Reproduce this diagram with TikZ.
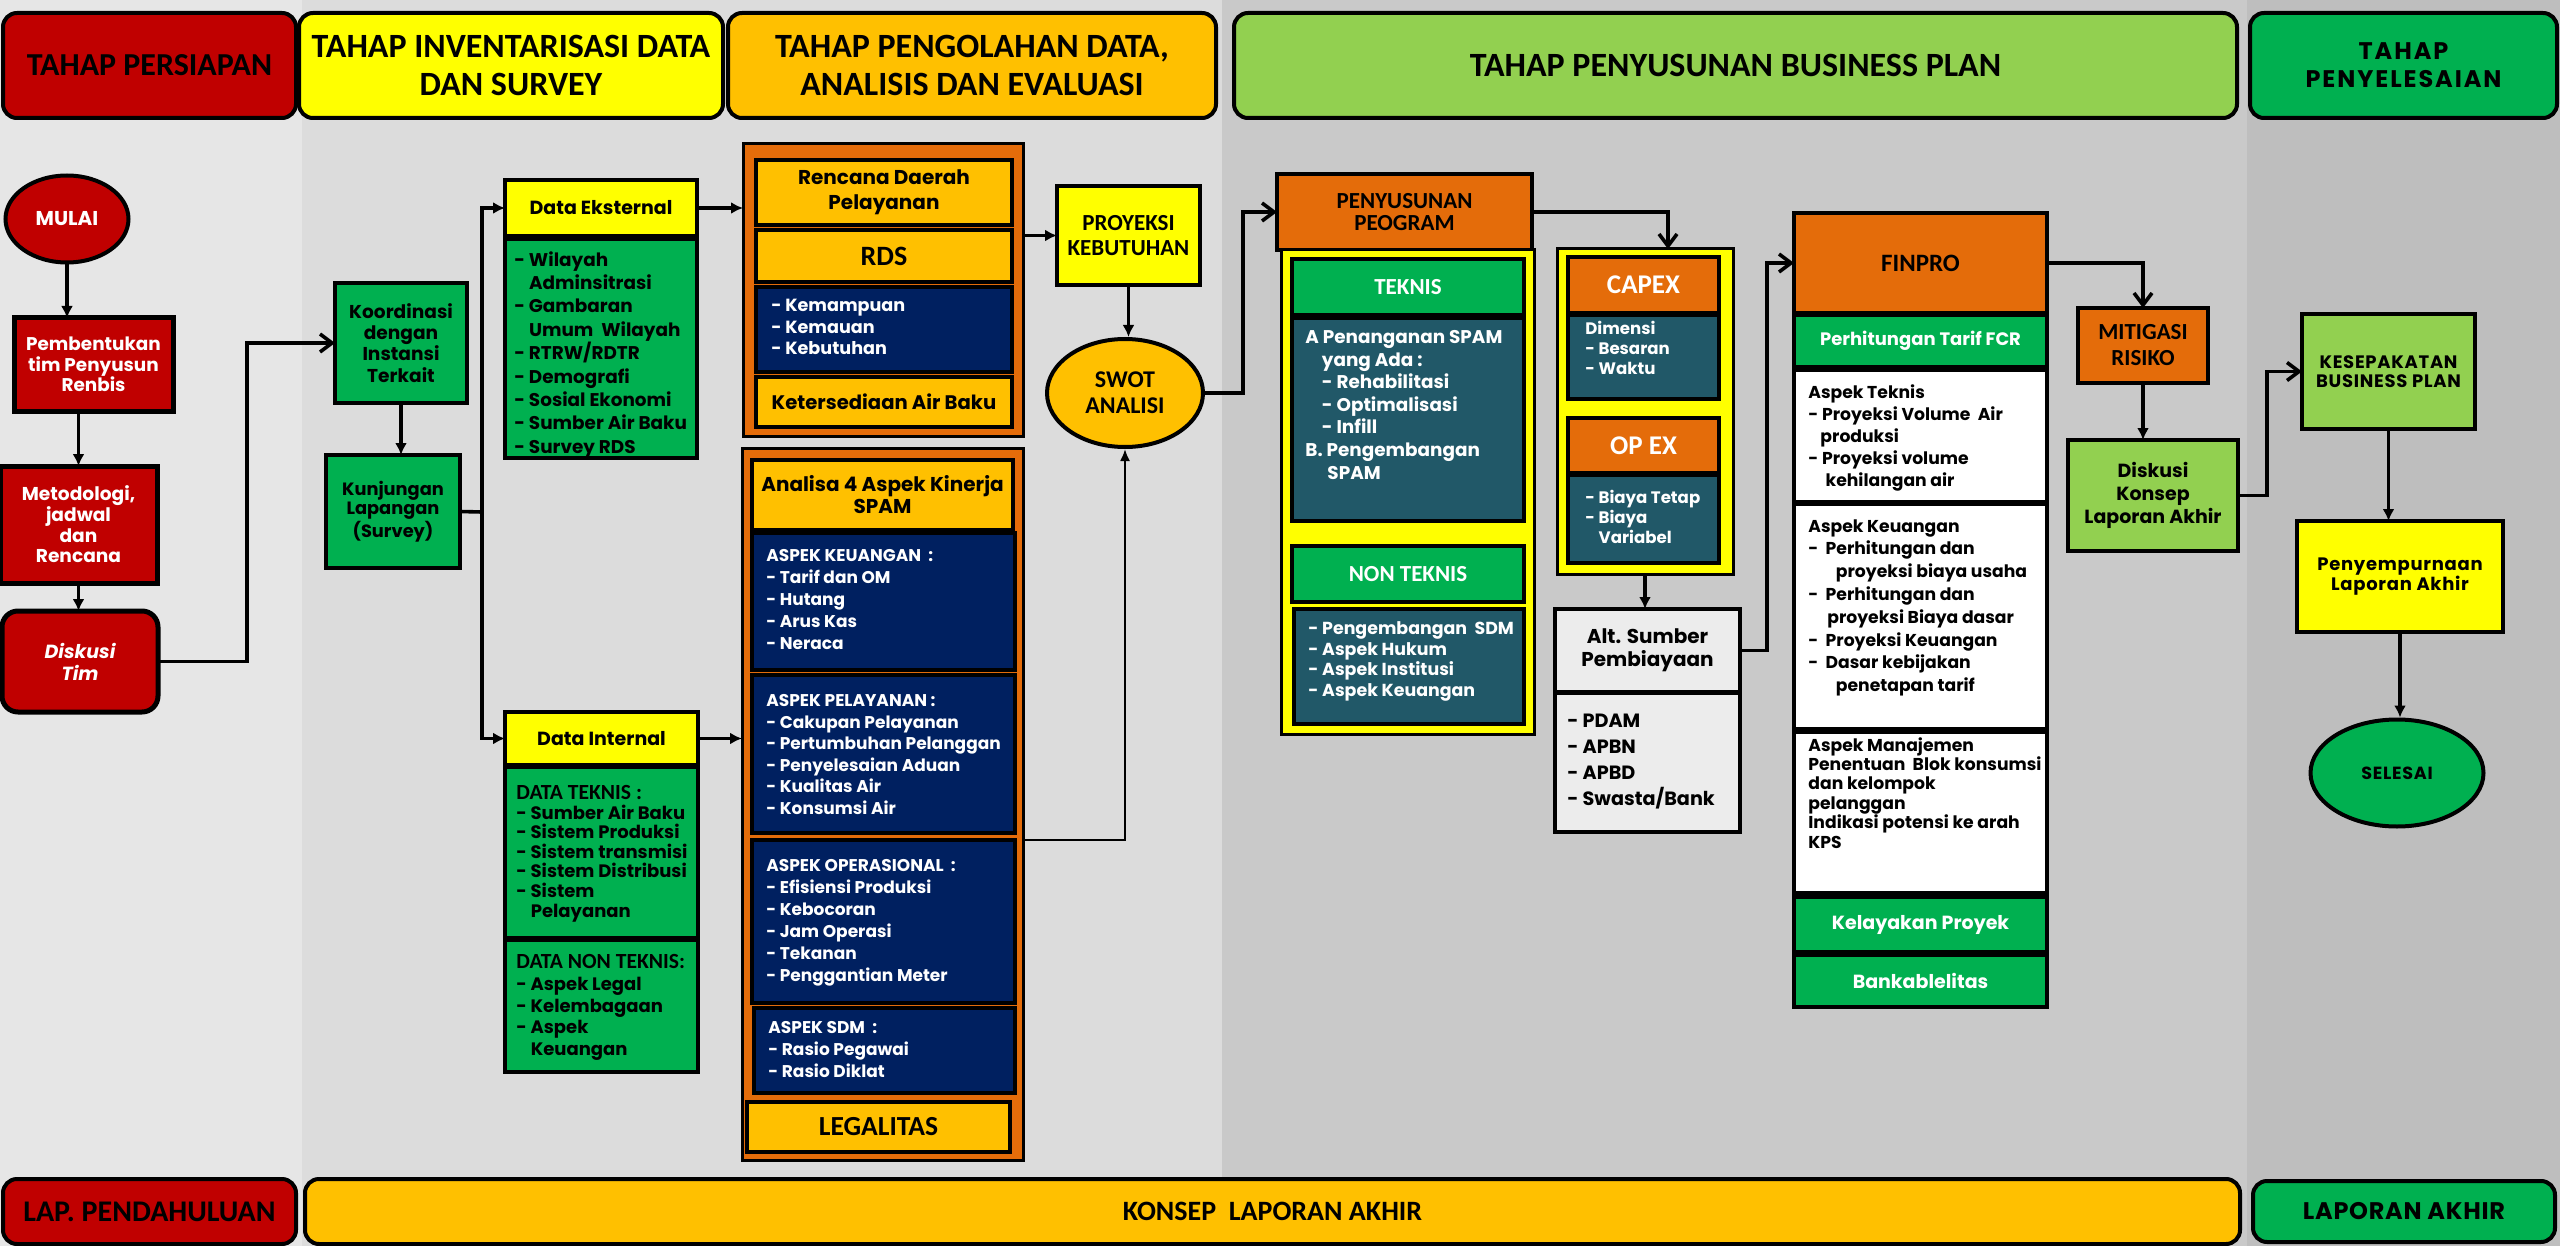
\documentclass[tikz,border=0pt]{standalone}
\usepackage{fontspec}
\setmainfont{Poppins}
\newfontfamily\hfont{Carlito}
\usetikzlibrary{shapes.geometric,arrows.meta,calc}
\definecolor{cred}{HTML}{C00000}
\definecolor{cyel}{HTML}{FFFF00}
\definecolor{cgold}{HTML}{FFC000}
\definecolor{clgrn}{HTML}{92D050}
\definecolor{cgrn}{HTML}{00B050}
\definecolor{corg}{HTML}{E46C0A}
\definecolor{cnavy}{HTML}{002060}
\definecolor{cteal}{HTML}{215868}
\definecolor{cgry}{HTML}{ECECEC}
\definecolor{bgA}{HTML}{E6E6E6}
\definecolor{bgB}{HTML}{DCDCDC}
\definecolor{bgC}{HTML}{C9C9C9}
\definecolor{bgD}{HTML}{BEBEBE}
\newcommand\mybox[7]{\node[#6,anchor=north west,minimum width={(#4-#2)*0.5pt},minimum height={(#5-#3)*0.5pt}] (#1) at (#2,#3) {#7};}
\newcommand\fs[2]{\bfseries\fontsize{#1}{#2}\selectfont}
\begin{document}
\begin{tikzpicture}[x=0.5pt,y=-0.5pt,
  box/.style={draw=black, line width=2pt, inner sep=1pt, outer sep=0pt, align=center, font=\fs{8.5}{10.5}},
  redbox/.style={box, fill=cred, text=white, line width=2.5pt},
  grnbox/.style={box, fill=cgrn},
  yelbox/.style={box, fill=cyel},
  goldbox/.style={box, fill=cgold, line width=1.8pt},
  navybox/.style={box, fill=cnavy, line width=1.8pt},
  tealbox/.style={box, fill=cteal, line width=1.8pt},
  frm/.style={box, fill=corg, line width=1.5pt},
  yfr/.style={box, fill=cyel, line width=1.5pt},
  orgbox/.style={box, fill=corg},
  orgw/.style={box, fill=corg, text=white, line width=1.8pt},
  grnw/.style={box, fill=cgrn, text=white, line width=1.8pt},
  whtbox/.style={box, fill=white},
  grybox/.style={box, fill=cgry},
  lgrnbox/.style={box, fill=clgrn},
  hdr/.style={draw=black, line width=2pt, rounded corners=7pt, inner sep=1pt, outer sep=0pt, align=center, font=\hfont\fs{16}{18}},
  lst/.style={anchor=north west, align=left, inner sep=0pt, font=\fs{8.5}{10.5}},
  conn/.style={line width=1.8pt},
  arf/.style={conn, -{Latex[length=6pt,width=6pt]}},
  aro/.style={conn, -{Straight Barb[length=6pt,width=9pt]}},
  ell/.style={ellipse, draw=black, line width=2pt, inner sep=0pt, align=center}
]
\useasboundingbox (0,0) rectangle (2560,1246);
% backgrounds
\fill[bgA] (0,0) rectangle (302,1246);
\fill[bgB] (302,0) rectangle (1222,1246);
\fill[bgC] (1222,0) rectangle (2247,1246);
\fill[bgD] (2247,0) rectangle (2560,1246);

% headers
\mybox{h1}{3}{13}{296}{118}{hdr,fill=cred}{TAHAP PERSIAPAN}
\mybox{h2}{299}{13}{723}{118}{hdr,fill=cyel,font=\hfont\fs{17}{19}}{TAHAP INVENTARISASI DATA\\DAN SURVEY}
\mybox{h3}{728}{13}{1216}{118}{hdr,fill=cgold,font=\hfont\fs{17}{19}}{TAHAP PENGOLAHAN DATA,\\ANALISIS DAN EVALUASI}
\mybox{h4}{1234}{13}{2237}{118}{hdr,fill=clgrn,font=\hfont\fs{17}{19}}{TAHAP PENYUSUNAN BUSINESS PLAN}
\mybox{h5}{2250}{13}{2557}{118}{hdr,fill=cgrn,font=\fs{12}{14}\addfontfeature{LetterSpace=8}}{TAHAP\\PENYELESAIAN}

% footers
\mybox{f1}{3}{1179}{296}{1244}{hdr,fill=cred,font=\hfont\fs{15}{16}}{LAP. PENDAHULUAN}
\mybox{f2}{305}{1179}{2240}{1244}{hdr,fill=cgold,font=\hfont\fs{14}{16}}{KONSEP~ LAPORAN AKHIR}
\mybox{f3}{2253}{1181}{2555}{1242}{hdr,fill=cgrn,font=\fs{12}{14}\addfontfeature{LetterSpace=3}}{LAPORAN AKHIR}

% column 1
\node[ell, fill=cred, text=white, font=\fs{10}{11}, minimum width=61.5pt, minimum height=43.5pt] (mulai) at (67,219) {MULAI};
\mybox{pemb}{14}{318}{173}{411}{redbox,font=\fs{9.2}{10.2}}{Pembentukan\\tim Penyusun\\Renbis}
\mybox{meto}{0}{466}{157}{583}{redbox,font=\fs{9.3}{10.3}}{Metodologi,\\jadwal\\dan\\Rencana}
\mybox{disk}{2}{611}{158}{712}{redbox,rounded corners=8pt,font=\fs{9.5}{11}\itshape}{Diskusi\\Tim}

% column 2
\mybox{koor}{335}{283}{467}{403}{grnbox,font=\fs{9.3}{10.6}}{Koordinasi\\dengan\\Instansi\\Terkait}
\mybox{kunj}{326}{455}{460}{568}{grnbox,font=\fs{8.9}{9.6}}{Kunjungan\\Lapangan\\(Survey)}
\coordinate (br) at (482,512);

\mybox{dexh}{505}{180}{697}{236}{yelbox,font=\fs{9.5}{11}}{Data Eksternal}
\mybox{dexb}{505}{239}{697}{458}{grnbox}{}
\node[lst, font=\fs{9.2}{11.7}] (dext) at (514,251) {- Wilayah\\\hspace*{0.8em}Adminsitrasi\\- Gambaran\\\hspace*{0.8em}Umum~ Wilayah\\- RTRW/RDTR\\- Demografi\\- Sosial Ekonomi\\- Sumber Air Baku\\- Survey RDS};

\mybox{dinh}{505}{712}{698}{765}{yelbox,font=\fs{9.5}{11}}{Data Internal}
\mybox{dint}{505}{767}{698}{938}{grnbox}{}
\node[lst, font=\fs{9}{9.8}] (dintt) at (516,785) {{\hfont\fontsize{10.8}{9.8}\selectfont DATA TEKNIS :}\\- Sumber Air Baku\\- Sistem Produksi\\- Sistem transmisi\\- Sistem Distribusi\\- Sistem\\\hspace*{0.8em}Pelayanan};
\mybox{dinn}{505}{940}{698}{1072}{grnbox}{}
\node[lst, font=\fs{9}{10.9}] (dinnt) at (516,954) {{\hfont\fontsize{10.8}{10.9}\selectfont DATA NON TEKNIS:}\\- Aspek Legal\\- Kelembagaan\\- Aspek\\\hspace*{0.8em}Keuangan};

% column 3 : frame 1
\mybox{fr1}{743}{144}{1023}{436}{frm}{}
\mybox{rdp}{756}{160}{1012}{225}{goldbox,font=\fs{10}{12.5}}{Rencana Daerah\\Pelayanan}
\mybox{rds}{756}{230}{1012}{282}{goldbox,font=\hfont\fs{14}{15}}{RDS}
\mybox{kem}{756}{287}{1012}{372}{navybox}{}
\node[lst, text=white, font=\fs{8.8}{10.8}] (kemt) at (771,299) {- Kemampuan\\- Kemauan\\- Kebutuhan};
\mybox{ket}{756}{377}{1012}{427}{goldbox,font=\fs{9.8}{11}}{Ketersediaan Air Baku}

% frame 2
\mybox{fr2}{742}{448}{1023}{1160}{frm}{}
\mybox{ana}{752}{460}{1013}{530}{goldbox,font=\fs{10}{11}}{Analisa 4 Aspek Kinerja\\SPAM}
\mybox{keu}{752}{533}{1015}{670}{navybox}{}
\node[lst, text=white, font=\fs{8.5}{11}] (keut) at (766,549) {ASPEK KEUANGAN~ :\\- Tarif dan OM\\- Hutang\\- Arus Kas\\- Neraca};
\mybox{pel}{752}{675}{1015}{833}{navybox}{}
\node[lst, text=white, font=\fs{8.5}{10.8}] (pelt) at (766,694) {ASPEK PELAYANAN :\\- Cakupan Pelayanan\\- Pertumbuhan Pelanggan\\- Penyelesaian Aduan\\- Kualitas Air\\- Konsumsi Air};
\mybox{ops}{752}{840}{1015}{1003}{navybox}{}
\node[lst, text=white, font=\fs{8.5}{11}] (opst) at (766,859) {ASPEK OPERASIONAL~ :\\- Efisiensi Produksi\\- Kebocoran\\- Jam Operasi\\- Tekanan\\- Penggantian Meter};
\mybox{sdm}{754}{1008}{1015}{1093}{navybox}{}
\node[lst, text=white, font=\fs{8.5}{11}] (sdmt) at (768,1021) {ASPEK SDM~ :\\- Rasio Pegawai\\- Rasio Diklat};
\mybox{leg}{747}{1102}{1010}{1152}{goldbox,font=\hfont\fs{13.8}{15}}{LEGALITAS}

% proyeksi & swot
\mybox{proy}{1057}{186}{1200}{285}{yelbox,font=\hfont\fs{11.5}{12.5}}{PROYEKSI\\KEBUTUHAN}
\node[ell, fill=cgold, font=\hfont\fs{12}{13}, minimum width=78pt, minimum height=54pt] (swot) at (1125,393) {SWOT\\ANALISI};

% column 4 : penyusunan
\mybox{peny}{1277}{174}{1532}{250}{orgbox,font=\hfont\fs{11.5}{11}}{PENYUSUNAN\\PEOGRAM}
\mybox{tfr}{1281}{250}{1534}{734}{yfr}{}
\mybox{tekh}{1292}{259}{1524}{315}{grnw,font=\hfont\fs{11.5}{12}}{TEKNIS}
\mybox{tekb}{1292}{318}{1524}{521}{tealbox}{}
\node[lst, text=white, font=\fs{9.2}{11.3}] (tekt) at (1305,330) {A Penanganan SPAM\\\hspace*{0.9em}yang Ada :\\\hspace*{0.9em}- Rehabilitasi\\\hspace*{0.9em}- Optimalisasi\\\hspace*{0.9em}- Infill\\B. Pengembangan\\\hspace*{1.2em}SPAM};
\mybox{ntkh}{1292}{546}{1524}{602}{grnw,font=\hfont\fs{11.5}{12}}{NON TEKNIS}
\mybox{ntkb}{1294}{609}{1524}{724}{tealbox}{}
\node[lst, text=white, font=\fs{8.7}{10.4}] (ntkt) at (1308,621) {- Pengembangan~ SDM\\- Aspek Hukum\\- Aspek Institusi\\- Aspek Keuangan};

% capex
\mybox{cfr}{1557}{249}{1733}{574}{yfr}{}
\mybox{caph}{1568}{257}{1719}{313}{orgw,font=\hfont\fs{13.5}{14}}{CAPEX}
\mybox{capb}{1568}{315}{1719}{399}{tealbox}{}
\node[lst, text=white, font=\fs{8.3}{10}] (capt) at (1585,321) {Dimensi\\- Besaran\\- Waktu};
\mybox{opxh}{1568}{418}{1719}{473}{orgw,font=\hfont\fs{13.5}{14}}{OP EX}
\mybox{opxb}{1568}{475}{1719}{563}{tealbox}{}
\node[lst, text=white, font=\fs{8.3}{10}] (opxt) at (1585,490) {- Biaya Tetap\\- Biaya\\\hspace*{0.8em}Variabel};

% alt sumber
\mybox{alth}{1555}{609}{1740}{692}{grybox,font=\fs{10}{11.5}}{Alt. Sumber\\Pembiayaan}
\mybox{altb}{1555}{693}{1740}{832}{grybox}{}
\node[lst, font=\fs{9.6}{13}] (altt) at (1567,714) {- PDAM\\- APBN\\- APBD\\- Swasta/Bank};

% finpro
\mybox{finp}{1794}{213}{2047}{313}{orgbox,font=\hfont\fs{12.5}{13}}{FINPRO}
\mybox{fcr}{1794}{315}{2047}{367}{grnw,font=\fs{9}{11}}{Perhitungan Tarif FCR}
\mybox{atek}{1794}{370}{2047}{502}{whtbox}{}
\node[lst, font=\fs{8.6}{11}] (atekt) at (1808,384) {Aspek Teknis\\- Proyeksi Volume~ Air\\\hspace*{0.7em}produksi\\- Proyeksi volume\\\hspace*{1em}kehilangan air};
\mybox{akeu}{1794}{504}{2047}{729}{whtbox}{}
\node[lst, font=\fs{8.6}{11.4}] (akeut) at (1808,519) {Aspek Keuangan\\-~ Perhitungan dan\\\hspace*{1.6em}proyeksi biaya usaha\\-~ Perhitungan dan\\\hspace*{1.1em}proyeksi Biaya dasar\\-~ Proyeksi Keuangan\\-~ Dasar kebijakan\\\hspace*{1.6em}penetapan tarif};
\mybox{aman}{1794}{732}{2047}{893}{whtbox}{}
\node[lst, font=\fs{8.6}{9.7}] (amant) at (1808,737) {Aspek Manajemen\\Penentuan~ Blok konsumsi\\dan kelompok\\pelanggan\\Indikasi potensi ke arah\\KPS};
\mybox{kel}{1794}{897}{2047}{952}{grnw,font=\fs{9.5}{11}}{Kelayakan Proyek}
\mybox{bank}{1794}{955}{2047}{1007}{grnw,font=\fs{9.5}{11}}{Bankablelitas}

% mitigasi & diskusi
\mybox{miti}{2078}{308}{2208}{383}{orgbox,font=\hfont\fs{11.5}{13}}{MITIGASI\\RISIKO}
\mybox{dkla}{2068}{440}{2238}{551}{lgrnbox,font=\fs{9.5}{11.5}}{Diskusi\\Konsep\\Laporan Akhir}

% column 5
\mybox{kesp}{2302}{314}{2475}{429}{lgrnbox,font=\fs{9}{9.8}\addfontfeature{LetterSpace=4}}{KESEPAKATAN\\BUSINESS PLAN}
\mybox{peny2}{2297}{521}{2503}{632}{yelbox,font=\fs{9}{10}\addfontfeature{LetterSpace=4}}{Penyempurnaan\\Laporan Akhir}
\node[ell, fill=cgrn, font=\fs{8.8}{9.5}\addfontfeature{LetterSpace=4}, minimum width=86.5pt, minimum height=53.5pt] (sele) at (2397,773) {SELESAI};

% connectors
\draw[arf] (mulai.south) -- (mulai.south |- pemb.north);
\draw[arf] (pemb.south -| meto.north) -- (meto.north);
\draw[arf] (meto.south) -- (meto.south |- disk.north);
\draw[aro] (disk.east) -- ++(89,0) |- (koor.west);
\draw[arf] (koor.south) -- (koor.south |- kunj.north);
\draw[conn] (kunj.east) -- (br);
\draw[arf] (br) |- (dexh.west);
\draw[arf] (br) |- (dinh.west);
\draw[arf] (dexh.east) -- (dexh.east -| fr1.west);
\draw[arf] (dinh.east) -- (dinh.east -| fr2.west);
\draw[arf] (fr1.east |- proy.west) -- (proy.west);
\draw[arf] (proy.south) -- (proy.south |- swot.north);
\draw[line width=1pt, -{Latex[length=6pt,width=5pt]}] (fr2.east |- ops.north) -| (swot.south);
\draw[aro] (swot.east) -- ++(38,0) |- (peny.west);
\draw[aro] (peny.east) -| ($(cfr.north)+(23,0)$);
\draw[arf] (cfr.south) -- (cfr.south |- alth.north);
\draw[aro] (alth.east) -- ++(27,0) |- (finp.west);
\draw[aro] (finp.east) -| (miti.north);
\draw[arf] (miti.south) -- (miti.south |- dkla.north);
\draw[aro] (dkla.east) -- ++(29,0) |- (kesp.west);
\draw[arf] (kesp.south) -- (kesp.south |- peny2.north);
\draw[arf] (peny2.south) -- (peny2.south |- sele.north);
\end{tikzpicture}
\end{document}
